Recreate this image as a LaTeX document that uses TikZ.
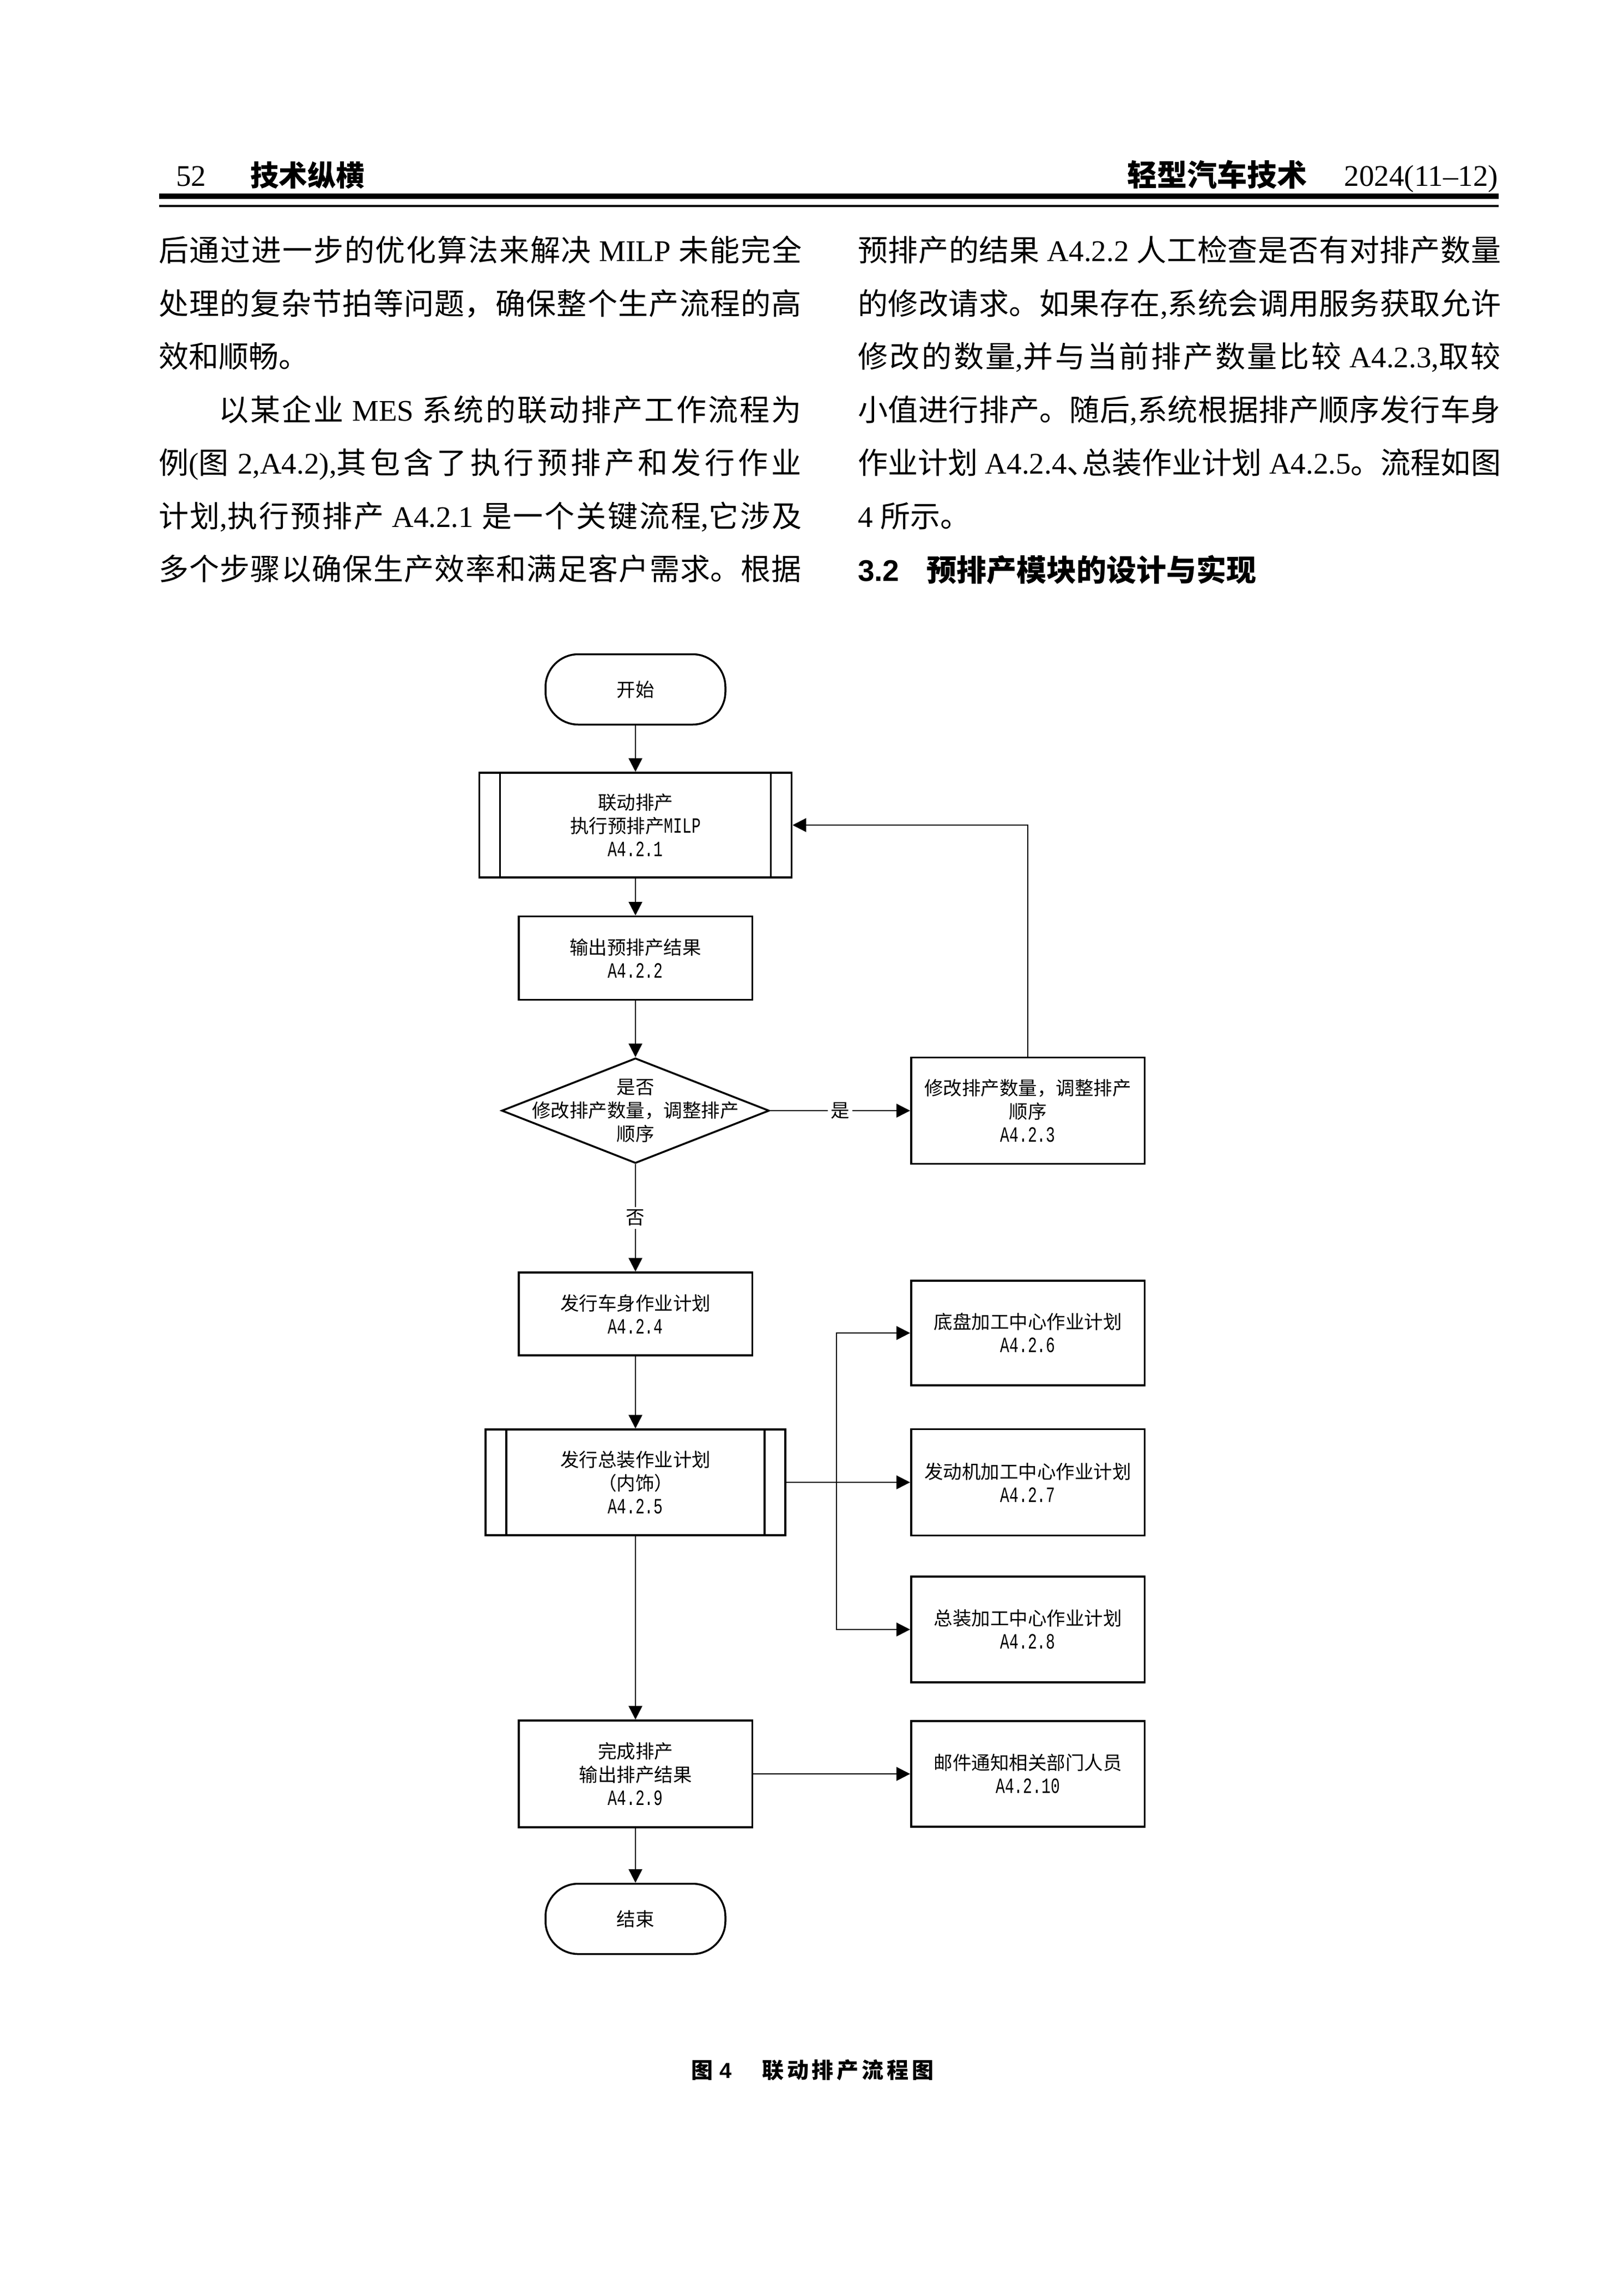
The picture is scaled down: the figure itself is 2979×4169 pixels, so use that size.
\documentclass[tikz,border=0pt]{standalone}
\usepackage{fontspec}
\setmainfont{Liberation Serif}
\setsansfont{Liberation Sans}
\newfontfamily\cjk{Noto Sans CJK SC}
\newfontfamily\codefont[FakeStretch=0.7]{Liberation Mono}
\usetikzlibrary{shapes.geometric,arrows.meta}

\newcommand\lt[1]{{\rmfamily #1}}
\newcommand\code[1]{{\codefont\fontsize{8pt}{8.6pt}\selectfont #1}}
\newcommand\jline[2][236pt]{\parbox[b]{#1}{\XeTeXlinebreaklocale "zh"\XeTeXlinebreakskip=0pt plus 3pt minus 0.8pt\relax\parfillskip=0pt\relax #2}}

\tikzset{
  flowfont/.style={font=\cjk\fontsize{6.9pt}{8.6pt}\selectfont},
  shapeline/.style={draw, line width=0.7pt},
  termbox/.style={shapeline, flowfont, rectangle, rounded corners=12pt, minimum width=66pt, minimum height=25.8pt, align=center},
  procbox/.style={shapeline, flowfont, rectangle, inner sep=0pt, minimum width=85.7pt, align=center},
  subbox/.style={procbox, path picture={
      \draw[line width=0.7pt] ([xshift=7.6pt]path picture bounding box.north west) -- ([xshift=7.6pt]path picture bounding box.south west)
        ([xshift=-7.6pt]path picture bounding box.north east) -- ([xshift=-7.6pt]path picture bounding box.south east);}},
  decision/.style={shapeline, diamond, inner sep=0pt, minimum width=98.2pt, minimum height=38.6pt},
  flowtext/.style={flowfont, align=center, inner sep=0pt},
  flowarrow/.style={line width=0.5pt, -{Triangle[length=5pt,width=5pt]}},
  flowline/.style={line width=0.5pt},
  branchlabel/.style={flowfont, fill=white, inner sep=1pt},
  bodytext/.style={font=\cjk\fontsize{11pt}{13pt}\selectfont, anchor=base west, inner sep=0pt}
}

\begin{document}
\begin{tikzpicture}[x=0.2pt, y=-0.2pt]
  \fill[white] (0,0) rectangle (2979,4169);
  \useasboundingbox (0,0) rectangle (2979,4169);

  % running head
  \node[anchor=base west, inner sep=0pt, font=\fontsize{11pt}{13pt}\selectfont] (pageno) at (322,342) {52};
  \node[anchor=base west, inner sep=0pt, font=\cjk\bfseries\fontsize{10.5pt}{13pt}\selectfont] (column) at (458,342) {技术纵横};
  \node[anchor=base west, inner sep=0pt, font=\cjk\bfseries\fontsize{11pt}{13pt}\selectfont] (journal) at (2067,342) {轻型汽车技术};
  \node[anchor=base east, inner sep=0pt, font=\fontsize{11pt}{13pt}\selectfont] (issue) at (2750,342) {2024(11--12)};
  \draw[line width=2pt] (292,360) -- (2750,360);
  \draw[line width=0.8pt] (292,378) -- (2750,378);

  % left column
  \node[bodytext] (left1) at (290,480) {\jline{后通过进一步的优化算法来解决\lt{ MILP }未能完全}};
  \node[bodytext] (left2) at (290,577) {\jline{处理的复杂节拍等问题，确保整个生产流程的高}};
  \node[bodytext] (left3) at (290,675) {效和顺畅。};
  \node[bodytext] (left4) at (290,772) {\jline{\hspace*{22pt}以某企业\lt{ MES }系统的联动排产工作流程为}};
  \node[bodytext] (left5) at (290,869) {\jline{例\lt{(}图\lt{ 2,A4.2),}其包含了执行预排产和发行作业}};
  \node[bodytext] (left6) at (290,967) {\jline{计划\lt{,}执行预排产\lt{ A4.2.1 }是一个关键流程\lt{,}它涉及}};
  \node[bodytext] (left7) at (290,1064) {\jline{多个步骤以确保生产效率和满足客户需求。根据}};

  % right column
  \node[bodytext] (right1) at (1573,480) {\jline{预排产的结果\lt{ A4.2.2 }人工检查是否有对排产数量}};
  \node[bodytext] (right2) at (1573,577) {\jline{的修改请求。如果存在\lt{,}系统会调用服务获取允许}};
  \node[bodytext] (right3) at (1573,675) {\jline{修改的数量\lt{,}并与当前排产数量比较\lt{ A4.2.3,}取较}};
  \node[bodytext] (right4) at (1573,772) {\jline{小值进行排产。随后\lt{,}系统根据排产顺序发行车身}};
  \node[bodytext] (right5) at (1573,869) {\jline{作业计划\lt{ A4.2.4}{\addfontfeature{RawFeature=+halt}、}总装作业计划\lt{ A4.2.5}。流程如图}};
  \node[bodytext] (right6) at (1573,967) {\lt{4 }所示。};
  \node[anchor=base west, inner sep=0pt, font=\fontsize{11pt}{13pt}\selectfont] (section) at (1573,1066)
    {\sffamily\bfseries 3.2\hspace{10pt}{\cjk\bfseries 预排产模块的设计与实现}};

  % flow chart
  \node[termbox] (start) at (1166,1265) {开始};
  \node[subbox, minimum width=114.6pt, minimum height=38.4pt] (premilp) at (1166,1514) {联动排产\\执行预排产\code{MILP}\\\code{A4.2.1}};
  \node[procbox, minimum height=30.6pt] (preout) at (1166,1758) {输出预排产结果\\\code{A4.2.2}};
  \node[decision] (check) at (1166,2038) {};
  \node[flowtext] (checktext) at (check.center) {是否\\修改排产数量，调整排产\\顺序};
  \node[procbox, minimum height=39pt] (modify) at (1886,2038) {修改排产数量，调整排产\\顺序\\\code{A4.2.3}};
  \node[procbox, minimum height=30.4pt] (bodyplan) at (1166,2411) {发行车身作业计划\\\code{A4.2.4}};
  \node[subbox, minimum width=110pt, minimum height=38.8pt] (assembly) at (1166,2720) {发行总装作业计划\\（内饰）\\\code{A4.2.5}};
  \node[procbox, minimum height=38.4pt] (chassis) at (1886,2446) {底盘加工中心作业计划\\\code{A4.2.6}};
  \node[procbox, minimum height=39pt] (engine) at (1886,2720) {发动机加工中心作业计划\\\code{A4.2.7}};
  \node[procbox, minimum height=38.8pt] (final) at (1886,2990) {总装加工中心作业计划\\\code{A4.2.8}};
  \node[procbox, minimum height=39.2pt] (finish) at (1166,3255) {完成排产\\输出排产结果\\\code{A4.2.9}};
  \node[procbox, minimum height=38.8pt] (notify) at (1886,3255) {邮件通知相关部门人员\\\code{A4.2.10}};
  \node[termbox] (stop) at (1166,3521) {结束};
  \coordinate (fork) at (1535,2720);

  \draw[flowarrow] (start) -- (premilp);
  \draw[flowarrow] (premilp) -- (preout);
  \draw[flowarrow] (preout) -- (check);
  \draw[flowarrow] (check.east) -- node[branchlabel] (yes) {是} (modify.west);
  \draw[flowarrow] (modify.north) |- (premilp.east);
  \draw[flowarrow] (check.south) -- node[branchlabel] (no) {否} (bodyplan.north);
  \draw[flowarrow] (bodyplan) -- (assembly);
  \draw[flowarrow] (assembly.east) -- (engine.west);
  \draw[flowarrow] (fork) |- (chassis.west);
  \draw[flowarrow] (fork) |- (final.west);
  \draw[flowarrow] (assembly) -- (finish);
  \draw[flowarrow] (finish) -- (notify);
  \draw[flowarrow] (finish) -- (stop);

  % caption
  \node[anchor=base west, inner sep=0pt, font=\cjk\bfseries\fontsize{8pt}{10pt}\selectfont] (caption) at (1267,3813)
    {图\hspace{2.4pt}{\sffamily\bfseries 4}\hspace{11.2pt}\jline[63pt]{联动排产流程图}};
\end{tikzpicture}
\end{document}
